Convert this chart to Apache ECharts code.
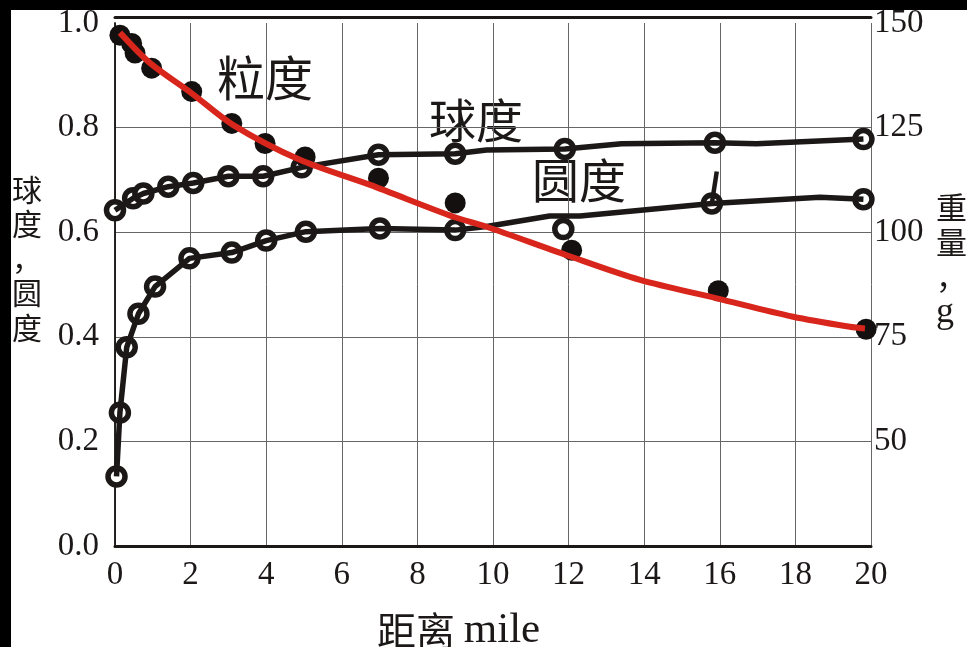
<!DOCTYPE html>
<html>
<head>
<meta charset="utf-8">
<script src="https://cdn.jsdelivr.net/npm/echarts@6/dist/echarts.min.js"></script>
<style>
  html, body { margin: 0; padding: 0; background: #000; }
  #chart { width: 967px; height: 647px; }
</style>
</head>
<body>
<div id="chart"></div>
<script>
// 距离 (mile) 刻度
const xTicks = [0, 2, 4, 6, 8, 10, 12, 14, 16, 18, 20];

// 球度: line vertices and circle markers
const qiuLineX = [0, 0.48, 0.75, 1.41, 2.07, 3.0, 3.92, 4.94, 6.97, 9.0, 9.83, 11.9, 13.4, 15.87, 16.97, 19.8];
const qiuLineY = [0.642, 0.665, 0.674, 0.687, 0.694, 0.707, 0.707, 0.724, 0.748, 0.750, 0.757, 0.759, 0.769, 0.771, 0.769, 0.778];
const qiuPtX = [0, 0.48, 0.75, 1.41, 2.07, 3.0, 3.92, 4.94, 6.97, 9.0, 11.9, 15.87, 19.8];
const qiuPtY = [0.642, 0.665, 0.674, 0.687, 0.694, 0.707, 0.707, 0.724, 0.748, 0.750, 0.759, 0.771, 0.778];

// 圆度: line vertices and circle markers
const yuanLineX = [0.04, 0.13, 0.31, 0.62, 1.06, 1.97, 3.09, 4.0, 5.05, 7.01, 9.0, 9.83, 11.5, 12.3, 15.79, 18.65, 19.8];
const yuanLineY = [0.133, 0.255, 0.380, 0.444, 0.496, 0.550, 0.561, 0.584, 0.601, 0.607, 0.604, 0.611, 0.631, 0.631, 0.655, 0.667, 0.663];
const yuanPtX = [0.04, 0.13, 0.31, 0.62, 1.06, 1.97, 3.09, 4.0, 5.05, 7.01, 9.0, 11.86, 15.79, 19.8];
const yuanPtY = [0.133, 0.255, 0.380, 0.444, 0.496, 0.550, 0.561, 0.584, 0.601, 0.607, 0.604, 0.606, 0.655, 0.663];
const yuanStubX = [15.79, 15.92];
const yuanStubY = [0.655, 0.716];

// 粒度 (重量, g): measured dots and fitted curve
const liDotX = [0.13, 0.44, 0.53, 0.97, 2.03, 3.09, 3.97, 5.03, 6.97, 9.0, 12.08, 15.96, 19.87];
const liDotY = [147.1, 145.1, 142.8, 139.2, 133.6, 126.0, 121.2, 118.0, 112.9, 107.0, 95.7, 86.0, 76.8];
const liCurveX = [0.13, 0.93, 2.03, 3.13, 4.89, 6.75, 8.95, 9.83, 11.95, 13.89, 15.92, 17.94, 19.44, 19.84];
const liCurveY = [147.7, 140.4, 133.2, 125.6, 117.3, 111.3, 103.7, 101.3, 94.5, 88.6, 84.2, 79.8, 77.4, 77.0];

function pairs(xs, ys) {
  return xs.map((x, i) => [x, ys[i]]);
}

const serif = "'Liberation Serif', 'DejaVu Serif', serif";
const cjk = "'Noto Sans CJK SC', sans-serif";
const ink = "#1c1818";

const chart = echarts.init(document.getElementById("chart"));

const option = {
  backgroundColor: "#fff",
  animation: false,
  grid: { left: 115, right: 96, top: 23, bottom: 101 },
  xAxis: [
    {
      type: "value",
      min: xTicks[0],
      max: xTicks[xTicks.length - 1],
      interval: 2,
      axisLine: { lineStyle: { color: ink, width: 3 } },
      axisTick: { show: false },
      axisLabel: { color: ink, fontFamily: serif, fontSize: 33, margin: 13 },
      splitLine: { show: true, lineStyle: { color: "#666", width: 1 } }
    },
    {
      type: "value",
      position: "top",
      offset: 6,
      min: 0,
      max: 20,
      axisLine: { show: true, lineStyle: { color: ink, width: 3 } },
      axisTick: { show: false },
      axisLabel: { show: false },
      splitLine: { show: false }
    }
  ],
  yAxis: [
    {
      type: "value",
      min: 0,
      max: 1,
      interval: 0.2,
      axisLine: { show: true, lineStyle: { color: ink, width: 1.5 } },
      axisTick: { show: false },
      axisLabel: {
        color: ink, fontFamily: serif, fontSize: 33, margin: 16,
        formatter: v => v.toFixed(1)
      },
      splitLine: { show: true, showMaxLine: false, lineStyle: { color: "#666", width: 1 } }
    },
    {
      type: "value",
      position: "right",
      min: 25,
      max: 150,
      interval: 25,
      axisLine: { show: true, lineStyle: { color: ink, width: 1.5 } },
      axisTick: { show: false },
      axisLabel: {
        color: ink, fontFamily: serif, fontSize: 33, margin: 3,
        formatter: v => (v === 25 ? "" : String(v))
      },
      splitLine: { show: false }
    }
  ],
  series: [
    {
      name: "球度线",
      type: "line",
      yAxisIndex: 0,
      showSymbol: false,
      lineStyle: { color: ink, width: 5.5 },
      data: pairs(qiuLineX, qiuLineY)
    },
    {
      name: "圆度线",
      type: "line",
      yAxisIndex: 0,
      showSymbol: false,
      lineStyle: { color: ink, width: 5.5 },
      data: pairs(yuanLineX, yuanLineY)
    },
    {
      name: "圆度短线",
      type: "line",
      yAxisIndex: 0,
      showSymbol: false,
      lineStyle: { color: ink, width: 4.5 },
      data: pairs(yuanStubX, yuanStubY)
    },
    {
      name: "球度",
      type: "scatter",
      yAxisIndex: 0,
      symbolSize: 17,
      itemStyle: { color: "#fff", borderColor: ink, borderWidth: 5.5, opacity: 1 },
      data: pairs(qiuPtX, qiuPtY)
    },
    {
      name: "圆度",
      type: "scatter",
      yAxisIndex: 0,
      symbolSize: 17,
      itemStyle: { color: "#fff", borderColor: ink, borderWidth: 5.5, opacity: 1 },
      data: pairs(yuanPtX, yuanPtY)
    },
    {
      name: "粒度",
      type: "scatter",
      yAxisIndex: 1,
      symbolSize: 21,
      itemStyle: { color: "#141010", opacity: 1 },
      data: pairs(liDotX, liDotY)
    },
    {
      name: "粒度拟合",
      type: "line",
      yAxisIndex: 1,
      smooth: 0.3,
      showSymbol: false,
      lineStyle: { color: "#d8261c", width: 6 },
      data: pairs(liCurveX, liCurveY)
    }
  ],
  graphic: [
    { type: "rect", left: 0, top: 0, shape: { width: 967, height: 10 }, style: { fill: "#000" } },
    { type: "rect", left: 0, top: 0, shape: { width: 11, height: 647 }, style: { fill: "#000" } },
    {
      type: "text", left: 217, top: 54,
      style: { text: "粒度", fill: ink, fontFamily: cjk, fontSize: 48 }
    },
    {
      type: "text", left: 429, top: 97,
      style: { text: "球度", fill: ink, fontFamily: cjk, fontSize: 47 }
    },
    {
      type: "text", left: 532, top: 157,
      style: { text: "圆度", fill: ink, fontFamily: cjk, fontSize: 47 }
    },
    {
      type: "text", left: 12, top: 172,
      style: {
        text: "球\n度\n，\n圆\n度",
        fill: ink, fontFamily: cjk, fontSize: 30, lineHeight: 34.5
      }
    },
    {
      type: "text", left: 936, top: 190,
      style: {
        text: "重\n量\n，\n{g|g}",
        fill: ink, fontFamily: cjk, fontSize: 31, lineHeight: 35,
        rich: { g: { fontFamily: serif, fontSize: 36, lineHeight: 35, fill: ink } }
      }
    },
    {
      type: "text", left: 377, top: 609,
      style: {
        text: "距离 {m|mile}",
        fill: ink, fontFamily: cjk, fontSize: 39,
        rich: { m: { fontFamily: serif, fontSize: 43, fill: ink } }
      }
    }
  ]
};

chart.setOption(option);
</script>
</body>
</html>
